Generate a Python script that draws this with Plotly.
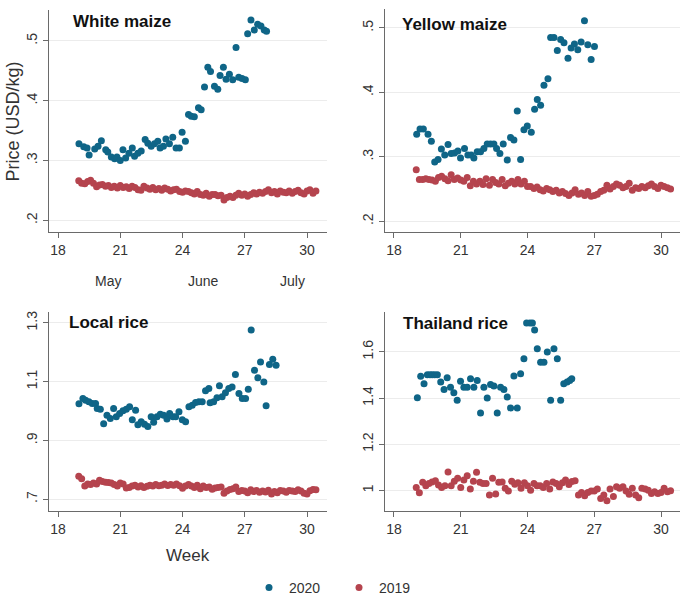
import plotly.graph_objects as go

# weekly axis, daily observations of 2019 (week 19 to week 30)
week_2019 = [19.0, 19.14, 19.29, 19.43, 19.57, 19.71, 19.86,
             20.0, 20.14, 20.29, 20.43, 20.57, 20.71, 20.86,
             21.0, 21.14, 21.29, 21.43, 21.57, 21.71, 21.86,
             22.0, 22.14, 22.29, 22.43, 22.57, 22.71, 22.86,
             23.0, 23.14, 23.29, 23.43, 23.57, 23.71, 23.86,
             24.0, 24.14, 24.29, 24.43, 24.57, 24.71, 24.86,
             25.0, 25.14, 25.29, 25.43, 25.57, 25.71, 25.86,
             26.0, 26.14, 26.29, 26.43, 26.57, 26.71, 26.86,
             27.0, 27.14, 27.29, 27.43, 27.57, 27.71, 27.86,
             28.0, 28.14, 28.29, 28.43, 28.57, 28.71, 28.86,
             29.0, 29.14, 29.29, 29.43, 29.57, 29.71, 29.86,
             30.0, 30.14, 30.29, 30.43]

# White maize
wm_week_2020 = [19.01, 19.24, 19.4, 19.5, 19.77, 19.93, 20.09, 20.3, 20.4, 20.57, 20.73, 20.84,
                21.0, 21.13, 21.26, 21.42, 21.58, 21.69, 21.85, 22.01, 22.2, 22.33, 22.49, 22.65,
                22.81, 22.92, 23.08, 23.2, 23.37, 23.53, 23.69, 23.85, 23.98, 24.14, 24.29, 24.42,
                24.57, 24.77, 24.9, 25.06, 25.22, 25.35, 25.54, 25.7, 25.81, 25.97, 26.1, 26.26,
                26.42, 26.58, 26.71, 26.87, 27.03, 27.14, 27.3, 27.46, 27.62, 27.78, 27.94, 28.05]
wm_price_2020 = [0.328, 0.323, 0.321, 0.309, 0.319, 0.324, 0.333, 0.318, 0.314, 0.306, 0.303, 0.306,
                 0.300, 0.318, 0.304, 0.312, 0.321, 0.307, 0.312, 0.316, 0.335, 0.329, 0.324, 0.328,
                 0.332, 0.321, 0.324, 0.336, 0.328, 0.339, 0.321, 0.321, 0.347, 0.332, 0.377, 0.374,
                 0.373, 0.388, 0.385, 0.423, 0.456, 0.449, 0.424, 0.419, 0.442, 0.456, 0.436, 0.444,
                 0.435, 0.489, 0.439, 0.437, 0.435, 0.512, 0.535, 0.518, 0.528, 0.525, 0.518, 0.516]
wm_price_2019 = [0.266, 0.262, 0.261, 0.265, 0.267, 0.262, 0.256,
                 0.259, 0.260, 0.257, 0.258, 0.255, 0.257, 0.254,
                 0.258, 0.255, 0.256, 0.253, 0.257, 0.255, 0.251,
                 0.250, 0.257, 0.254, 0.252, 0.255, 0.251, 0.253,
                 0.250, 0.254, 0.252, 0.249, 0.251, 0.252, 0.248,
                 0.247, 0.249, 0.248, 0.246, 0.244, 0.248, 0.243,
                 0.242, 0.245, 0.240, 0.243, 0.243, 0.241, 0.242,
                 0.234, 0.238, 0.240, 0.238, 0.242, 0.245, 0.242,
                 0.244, 0.240, 0.243, 0.246, 0.244, 0.247, 0.245,
                 0.248, 0.251, 0.246, 0.248, 0.244, 0.249, 0.247,
                 0.246, 0.249, 0.245, 0.248, 0.250, 0.246, 0.244,
                 0.249, 0.251, 0.245, 0.249]

# Yellow maize
ym_week_2020 = [19.02, 19.17, 19.32, 19.53, 19.68, 19.83, 19.98, 20.13, 20.28, 20.43, 20.57, 20.72,
                20.87, 20.99, 21.17, 21.32, 21.47, 21.59, 21.74, 21.89, 22.04, 22.19, 22.34, 22.49,
                22.61, 22.76, 22.91, 23.09, 23.24, 23.39, 23.54, 23.69, 23.84, 23.99, 24.17, 24.32,
                24.44, 24.59, 24.74, 24.92, 25.04, 25.19, 25.34, 25.49, 25.64, 25.82, 25.96, 26.11,
                26.26, 26.41, 26.56, 26.71, 26.86, 27.01]
ym_price_2020 = [0.335, 0.343, 0.343, 0.335, 0.324, 0.292, 0.296, 0.312, 0.303, 0.319, 0.305, 0.306,
                 0.309, 0.298, 0.313, 0.303, 0.303, 0.298, 0.308, 0.308, 0.313, 0.320, 0.320, 0.320,
                 0.313, 0.305, 0.320, 0.295, 0.330, 0.326, 0.371, 0.296, 0.342, 0.348, 0.338, 0.374,
                 0.389, 0.380, 0.411, 0.421, 0.485, 0.485, 0.465, 0.482, 0.477, 0.453, 0.469, 0.475,
                 0.466, 0.478, 0.511, 0.474, 0.451, 0.471]
ym_price_2019 = [0.280, 0.265, 0.265, 0.266, 0.265, 0.264, 0.262,
                 0.268, 0.270, 0.266, 0.263, 0.272, 0.265, 0.267,
                 0.264, 0.262, 0.268, 0.255, 0.262, 0.258, 0.262,
                 0.257, 0.266, 0.256, 0.265, 0.260, 0.258, 0.265,
                 0.255, 0.259, 0.262, 0.258, 0.265, 0.258, 0.262,
                 0.254, 0.254, 0.251, 0.253, 0.249, 0.247, 0.251,
                 0.249, 0.246, 0.248, 0.244, 0.246, 0.243, 0.240,
                 0.244, 0.249, 0.242, 0.244, 0.240, 0.246, 0.239,
                 0.240, 0.242, 0.246, 0.248, 0.256, 0.250, 0.254,
                 0.258, 0.256, 0.252, 0.254, 0.259, 0.248, 0.252,
                 0.251, 0.254, 0.252, 0.255, 0.258, 0.254, 0.251,
                 0.256, 0.254, 0.252, 0.250]

# Local rice
lr_week_2020 = [19.01, 19.2, 19.33, 19.49, 19.65, 19.81, 19.89, 20.04, 20.2, 20.36, 20.52, 20.68,
                20.81, 20.97, 21.13, 21.29, 21.45, 21.58, 21.74, 21.85, 22.01, 22.17, 22.33, 22.49,
                22.61, 22.77, 22.93, 23.09, 23.25, 23.38, 23.54, 23.67, 23.83, 23.99, 24.15, 24.31,
                24.47, 24.63, 24.79, 24.95, 25.11, 25.27, 25.33, 25.5, 25.66, 25.78, 25.91, 26.07,
                26.23, 26.39, 26.55, 26.72, 26.88, 27.04, 27.17, 27.31, 27.47, 27.63, 27.76, 27.92,
                28.03, 28.19, 28.35, 28.51]
lr_price_2020 = [1.025, 1.043, 1.037, 1.032, 1.026, 1.026, 1.009, 1.006, 0.957, 0.986, 0.975, 1.009,
                 0.981, 0.992, 1.001, 1.006, 1.015, 0.970, 1.003, 0.953, 0.964, 0.955, 0.947, 0.981,
                 0.962, 0.981, 0.989, 0.986, 0.973, 0.992, 0.981, 0.981, 0.998, 0.970, 0.964, 1.015,
                 1.020, 1.029, 1.032, 1.032, 1.069, 1.077, 1.028, 1.032, 1.045, 1.086, 1.049, 1.062,
                 1.077, 1.082, 1.124, 1.060, 1.043, 1.043, 1.074, 1.276, 1.139, 1.113, 1.167, 1.099,
                 1.018, 1.158, 1.176, 1.156]
lr_price_2019 = [0.778, 0.770, 0.745, 0.752, 0.750, 0.755, 0.752,
                 0.765, 0.760, 0.758, 0.757, 0.755, 0.750, 0.745,
                 0.755, 0.752, 0.738, 0.740, 0.745, 0.748, 0.742,
                 0.746, 0.740, 0.744, 0.748, 0.745, 0.750, 0.746,
                 0.748, 0.752, 0.747, 0.750, 0.748, 0.752, 0.746,
                 0.737, 0.745, 0.750, 0.745, 0.740, 0.748, 0.736,
                 0.745, 0.740, 0.742, 0.734, 0.738, 0.740, 0.742,
                 0.720, 0.728, 0.733, 0.736, 0.742, 0.726, 0.730,
                 0.728, 0.722, 0.732, 0.726, 0.730, 0.724, 0.728,
                 0.725, 0.731, 0.718, 0.726, 0.722, 0.730, 0.728,
                 0.724, 0.730, 0.728, 0.726, 0.732, 0.728, 0.720,
                 0.718, 0.729, 0.733, 0.732]

# Thailand rice
tr_week_2020 = [19.05, 19.2, 19.35, 19.5, 19.62, 19.72, 19.83, 19.95, 20.1, 20.25, 20.39, 20.54,
                20.69, 20.84, 20.99, 21.14, 21.29, 21.44, 21.59, 21.74, 21.89, 22.04, 22.19, 22.34,
                22.49, 22.64, 22.79, 22.94, 23.09, 23.24, 23.39, 23.54, 23.69, 23.84, 23.96, 24.11,
                24.22, 24.32, 24.44, 24.59, 24.74, 24.89, 25.04, 25.19, 25.34, 25.49, 25.63, 25.78,
                25.9, 25.99]
tr_price_2020 = [1.401, 1.494, 1.462, 1.501, 1.501, 1.501, 1.501, 1.501, 1.469, 1.437, 1.488, 1.447,
                 1.423, 1.390, 1.473, 1.447, 1.447, 1.483, 1.447, 1.476, 1.335, 1.447, 1.400, 1.459,
                 1.452, 1.335, 1.447, 1.437, 1.404, 1.357, 1.495, 1.357, 1.505, 1.570, 1.725, 1.725,
                 1.725, 1.695, 1.613, 1.555, 1.555, 1.599, 1.390, 1.613, 1.570, 1.390, 1.462, 1.469,
                 1.476, 1.483]
tr_price_2019 = [1.012, 0.990, 1.035, 1.020, 1.030, 1.036, 1.042,
                 1.023, 1.012, 1.020, 1.080, 1.020, 1.040, 1.052,
                 1.012, 1.045, 1.063, 1.006, 1.040, 1.078, 1.035,
                 1.030, 1.030, 0.980, 1.052, 0.984, 1.035, 1.036,
                 1.009, 0.997, 1.040, 1.026, 1.033, 1.009, 1.033,
                 1.020, 1.001, 1.030, 1.020, 1.020, 1.012, 1.030,
                 1.006, 1.036, 1.030, 1.016, 1.033, 1.045, 1.025,
                 1.038, 1.042, 0.980, 0.991, 0.977, 0.991, 0.997,
                 0.997, 1.006, 0.965, 0.980, 0.955, 1.006, 0.973,
                 1.016, 1.009, 1.016, 0.997, 0.983, 1.009, 0.980,
                 0.968, 1.009, 1.006, 1.001, 0.987, 0.994, 0.987,
                 0.991, 1.009, 0.994, 0.998]

week_ticks = [18, 21, 24, 27, 30]
months = ["May", "June", "July"]
month_weeks = [20.4, 25.0, 29.3]

panels = [
    ("White maize", wm_week_2020, wm_price_2020, wm_price_2019, [0.2, 0.3, 0.4, 0.5], [".2", ".3", ".4", ".5"]),
    ("Yellow maize", ym_week_2020, ym_price_2020, ym_price_2019, [0.2, 0.3, 0.4, 0.5], [".2", ".3", ".4", ".5"]),
    ("Local rice", lr_week_2020, lr_price_2020, lr_price_2019, [0.7, 0.9, 1.1, 1.3], [".7", ".9", "1.1", "1.3"]),
    ("Thailand rice", tr_week_2020, tr_price_2020, tr_price_2019, [1.0, 1.2, 1.4, 1.6], ["1", "1.2", "1.4", "1.6"]),
]

W, H = 688, 604
FONT = "Liberation Sans, Arial, sans-serif"
C2020 = "#0f6587"
C2019 = "#b5444e"
AXIS = "#6a6a6a"

# pixel boxes of each plot area: (left, right, top, bottom), x range, y range
boxes = [
    ((49, 327, 10, 233), [17.566, 30.964], [0.18, 0.5517]),
    ((385, 680, 9, 233), [17.596, 30.854], [0.183, 0.5294]),
    ((49, 327, 313, 513), [17.566, 30.964], [0.659, 1.337]),
    ((385, 680, 313, 513), [17.596, 30.854], [0.9094, 1.7726]),
]
title_pos = [(71, 22), (400, 25), (67, 324), (401, 325)]

fig = go.Figure()
layout = {}
annotations = []
for i, (name, wk20, p20, p19, yt, ytt) in enumerate(panels):
    n = "" if i == 0 else str(i + 1)
    (l, r, t, b), xr, yr = boxes[i]
    fig.add_trace(go.Scatter(x=wk20, y=p20, mode="markers", name="2020",
                             marker=dict(color=C2020, size=7), showlegend=(i == 0),
                             xaxis="x" + n, yaxis="y" + n))
    fig.add_trace(go.Scatter(x=week_2019, y=p19, mode="markers", name="2019",
                             marker=dict(color=C2019, size=7), showlegend=(i == 0),
                             xaxis="x" + n, yaxis="y" + n))
    layout["xaxis" + n] = dict(domain=[l / W, r / W], range=xr, anchor="y" + n,
                               tickvals=week_ticks, ticks="outside", ticklen=5,
                               tickcolor=AXIS, showline=True, linecolor=AXIS, linewidth=1,
                               showgrid=False, zeroline=False,
                               tickfont=dict(size=14, color="#333333"))
    layout["yaxis" + n] = dict(domain=[1 - b / H, 1 - t / H], range=yr, anchor="x" + n,
                               tickvals=yt, ticktext=ytt, tickangle=-90, ticks="outside",
                               ticklen=5, tickcolor=AXIS, showline=True, linecolor=AXIS,
                               linewidth=1, showgrid=True, gridcolor="#ececec", gridwidth=1,
                               zeroline=False, tickfont=dict(size=14, color="#333333"))
    tx, ty = title_pos[i]
    annotations.append(dict(text="<b>" + name + "</b>", x=tx / W, y=1 - ty / H, xref="paper",
                            yref="paper", xanchor="left", yanchor="middle", showarrow=False,
                            font=dict(size=17, color="#111111", family=FONT)))

for m, wk in zip(months, month_weeks):
    annotations.append(dict(text=m, x=wk, xref="x", y=1 - 282 / H, yref="paper",
                            showarrow=False, xanchor="center", yanchor="middle",
                            font=dict(size=14, color="#333333", family=FONT)))

annotations.append(dict(text="Price (USD/kg)", x=13 / W, y=1 - 122 / H, xref="paper", yref="paper",
                        textangle=-90, showarrow=False, xanchor="center", yanchor="middle",
                        font=dict(size=18, color="#333333", family=FONT)))
annotations.append(dict(text="Week", x=188 / W, y=1 - 557 / H, xref="paper", yref="paper",
                        showarrow=False, xanchor="center", yanchor="middle",
                        font=dict(size=17, color="#333333", family=FONT)))

fig.update_layout(
    width=W, height=H,
    margin=dict(l=0, r=0, t=0, b=0),
    paper_bgcolor="white", plot_bgcolor="white",
    font=dict(family=FONT, size=14, color="#333333"),
    annotations=annotations,
    hovermode=False,
    legend=dict(orientation="h", x=249 / W, y=1 - 590 / H, xanchor="left", yanchor="middle",
                entrywidth=45, entrywidthmode="pixels", font=dict(size=14, color="#333333")),
    **layout,
)

# drop the default page margin so the figure sits at the window's top-left corner
fig.write_html("out.html", config={"displayModeBar": False},
               post_script="document.body.style.margin = '0';")
